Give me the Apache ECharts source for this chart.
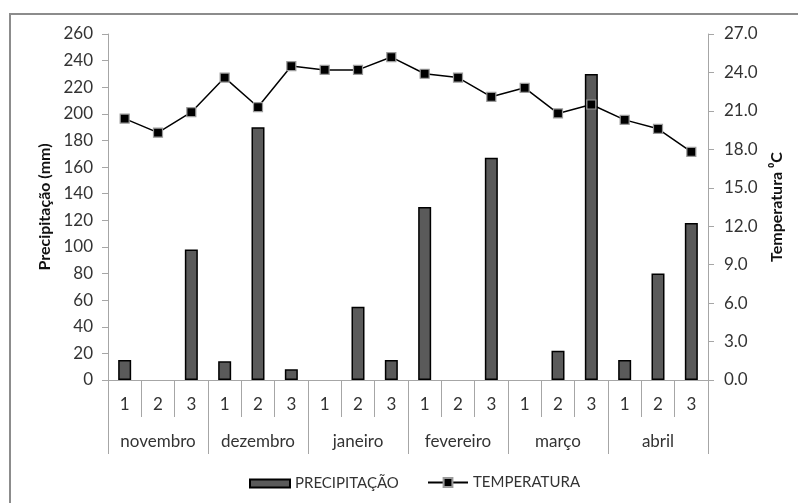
<!DOCTYPE html>
<html>
<head>
<meta charset="utf-8">
<script src="https://cdn.jsdelivr.net/npm/echarts@6/dist/echarts.min.js"></script>
<style>
  html, body { margin: 0; padding: 0; background: #fff; }
  #chart { width: 798px; height: 503px; }
</style>
</head>
<body>
<div id="chart"></div>
<script>
// Ten-day periods (decêndios) of each month
const months = ['novembro', 'dezembro', 'janeiro', 'fevereiro', 'março', 'abril'];
const decades = ['1', '2', '3'];
const periods = months.flatMap(() => decades);

// Rainfall per ten-day period (mm)
const precipitacao = [15, 0, 98, 14, 190, 8, 0, 55, 15, 130, 0, 167, 0, 22, 230, 15, 80, 118];
// Mean air temperature per ten-day period (°C)
const temperatura = [20.4, 19.3, 20.9, 23.6, 21.3, 24.5, 24.2, 24.2, 25.2, 23.9, 23.6, 22.1, 22.8, 20.8, 21.5, 20.3, 19.6, 17.8];

// Axis scales
const precipTicks = { min: 0, max: 260, interval: 20 };
const tempTicks = { min: 0, max: 27, interval: 3 };

const FONT = 'Lato';
const TXT = '#333';
const AXIS = '#a6a6a6';

// Dry periods get no outline, so no flat sliver is drawn on the baseline
const barData = precipitacao.map(v => (v === 0 ? { value: v, itemStyle: { borderWidth: 0 } } : v));

const chart = echarts.init(document.getElementById('chart'), null, { renderer: 'canvas' });

chart.setOption({
  backgroundColor: '#fff',
  animation: false,
  textStyle: { fontFamily: FONT },
  graphic: [{
    type: 'rect',
    shape: { x: 10, y: 14, width: 800, height: 500 },
    style: { fill: 'none', stroke: '#8c8c8c', lineWidth: 2 },
    silent: true
  }],
  grid: { left: 108, right: 90, top: 34, bottom: 123 },
  legend: [
    {
      left: 244,
      top: 471,
      itemWidth: 40,
      itemHeight: 8,
      icon: 'rect',
      textStyle: { fontFamily: FONT, fontSize: 15, color: TXT },
      data: ['PRECIPITAÇÃO']
    },
    {
      left: 422,
      top: 470,
      itemWidth: 40,
      itemHeight: 11,
      textStyle: { fontFamily: FONT, fontSize: 15, color: TXT },
      data: ['TEMPERATURA']
    }
  ],
  xAxis: [
    {
      type: 'category',
      data: periods,
      position: 'bottom',
      axisLine: { show: true, lineStyle: { color: AXIS, width: 1 } },
      axisTick: { show: true, interval: 0, length: 37, lineStyle: { color: AXIS } },
      axisLabel: { interval: 0, margin: 16, fontSize: 17, color: TXT, fontFamily: FONT }
    },
    {
      type: 'category',
      data: months,
      position: 'bottom',
      axisLine: { show: false },
      axisTick: { show: true, interval: 0, length: 74, lineStyle: { color: AXIS } },
      axisLabel: { interval: 0, margin: 53, fontSize: 17, color: TXT, fontFamily: FONT }
    }
  ],
  yAxis: [
    {
      type: 'value',
      position: 'left',
      min: precipTicks.min, max: precipTicks.max, interval: precipTicks.interval,
      name: 'Precipitação (mm)',
      nameLocation: 'middle',
      nameRotate: 90,
      nameGap: 54,
      nameTextStyle: { fontSize: 16, fontWeight: 'bold', color: '#111', fontFamily: FONT },
      axisLine: { show: true, lineStyle: { color: AXIS } },
      axisTick: { show: true, length: 6, lineStyle: { color: AXIS } },
      axisLabel: { margin: 15, fontSize: 17, color: TXT, fontFamily: FONT },
      splitLine: { show: false }
    },
    {
      type: 'value',
      position: 'right',
      min: tempTicks.min, max: tempTicks.max, interval: tempTicks.interval,
      name: 'Temperatura ⁰C',
      nameLocation: 'middle',
      nameRotate: 90,
      nameGap: 60,
      nameTextStyle: { fontSize: 16, fontWeight: 'bold', color: '#111', fontFamily: FONT },
      axisLine: { show: true, lineStyle: { color: AXIS } },
      axisTick: { show: true, length: 6, lineStyle: { color: AXIS } },
      axisLabel: {
        margin: 16, fontSize: 17, color: TXT, fontFamily: FONT,
        formatter: v => v.toFixed(1)
      },
      splitLine: { show: false }
    }
  ],
  series: [
    {
      name: 'PRECIPITAÇÃO',
      type: 'bar',
      xAxisIndex: 0,
      yAxisIndex: 0,
      data: barData,
      barWidth: 13,
      itemStyle: { color: '#5a5a5a', borderColor: '#000', borderWidth: 1.5 }
    },
    {
      name: 'TEMPERATURA',
      type: 'line',
      xAxisIndex: 0,
      yAxisIndex: 1,
      data: temperatura,
      symbol: 'rect',
      symbolSize: 9,
      lineStyle: { color: '#000', width: 1.5 },
      itemStyle: { color: '#000', borderColor: '#9a9a9a', borderWidth: 1.2 }
    }
  ]
});
</script>
</body>
</html>
